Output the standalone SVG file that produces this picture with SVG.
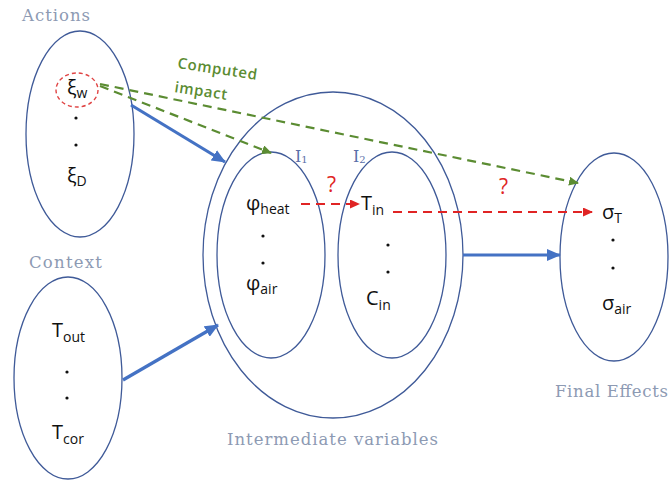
<svg xmlns="http://www.w3.org/2000/svg" width="670" height="482" viewBox="0 0 670 482">
<defs>
<style>
.set{fill:none;stroke:#3f5a98;stroke-width:1.3}
.lbl{font-family:"DejaVu Serif","Liberation Serif",serif;font-size:16.5px;fill:#8d9ab3}
.m{font-family:"Open Sans","Liberation Sans",sans-serif;font-size:20px;fill:#111}
.s{font-size:14px}
.dot{fill:#111}
.blue{stroke:#4472c4;stroke-width:3.2;fill:none}
.green{stroke:#5b8c32;stroke-width:2.2;fill:none;stroke-dasharray:9 6}
.red{stroke:#e02424;stroke-width:2.2;fill:none;stroke-dasharray:9 6}
.q{font-family:"Open Sans","Liberation Sans",sans-serif;font-size:21px;fill:#e02424}
.ci{font-family:"Open Sans","Liberation Sans",sans-serif;font-size:15px;font-weight:600;fill:#5b8c32}
.tag{font-family:"DejaVu Serif","Liberation Serif",serif;font-size:16px;fill:#5a6fa8}
</style>
<marker id="ab" markerUnits="userSpaceOnUse" markerWidth="14" markerHeight="12" refX="13" refY="6" orient="auto"><path d="M0,0 L14,6 L0,12 Z" fill="#4472c4"/></marker>
<marker id="ag" markerUnits="userSpaceOnUse" markerWidth="10" markerHeight="9" refX="9" refY="4.5" orient="auto"><path d="M0,0 L10,4.5 L0,9 Z" fill="#5b8c32"/></marker>
<marker id="ar" markerUnits="userSpaceOnUse" markerWidth="10" markerHeight="9" refX="9" refY="4.5" orient="auto"><path d="M0,0 L10,4.5 L0,9 Z" fill="#e02424"/></marker>
</defs>
<rect width="670" height="482" fill="#fff"/>

<g id="actions">
<text class="lbl" x="22" y="21" textLength="68">Actions</text>
<ellipse class="set" cx="80" cy="134" rx="54" ry="103"/>
<ellipse cx="77" cy="90" rx="21" ry="17" fill="none" stroke="#e04545" stroke-width="1.4" stroke-dasharray="4 3"/>
<text class="m" x="67" y="94">ξ<tspan class="s" dy="4">w</tspan></text>
<circle class="dot" cx="76" cy="118" r="1.6"/>
<circle class="dot" cx="76" cy="145" r="1.6"/>
<text class="m" x="67" y="182">ξ<tspan class="s" dy="4">D</tspan></text>
</g>

<g id="context">
<text class="lbl" x="29" y="268" textLength="73">Context</text>
<ellipse class="set" cx="68" cy="378" rx="54" ry="101"/>
<text class="m" x="52" y="337">T<tspan class="s" dy="5">out</tspan></text>
<circle class="dot" cx="67" cy="372" r="1.6"/>
<circle class="dot" cx="67" cy="398" r="1.6"/>
<text class="m" x="52" y="439">T<tspan class="s" dy="5">cor</tspan></text>
</g>

<g id="intermediate">
<ellipse class="set" cx="333" cy="255" rx="130" ry="163"/>
<text class="lbl" x="227" y="445" textLength="211">Intermediate variables</text>
</g>

<g id="i1">
<ellipse class="set" cx="271" cy="255" rx="54" ry="103"/>
<text class="tag" x="295" y="162">I<tspan font-size="10" dy="1">1</tspan></text>
<text class="m" x="246" y="210">φ<tspan class="s" dy="4">heat</tspan></text>
<circle class="dot" cx="263" cy="236" r="1.6"/>
<circle class="dot" cx="263" cy="263" r="1.6"/>
<text class="m" x="246" y="290">φ<tspan class="s" dy="4">air</tspan></text>
</g>

<g id="i2">
<ellipse class="set" cx="392" cy="255" rx="54" ry="103"/>
<text class="tag" x="353" y="162">I<tspan font-size="10" dy="1">2</tspan></text>
<text class="m" x="361" y="210">T<tspan class="s" dy="5">in</tspan></text>
<circle class="dot" cx="388" cy="245" r="1.6"/>
<circle class="dot" cx="388" cy="272" r="1.6"/>
<text class="m" x="366" y="305">C<tspan class="s" dy="5">in</tspan></text>
</g>

<g id="final">
<ellipse class="set" cx="614" cy="257" rx="54" ry="104"/>
<text class="m" x="602" y="219">σ<tspan class="s" dy="4">T</tspan></text>
<circle class="dot" cx="613" cy="240" r="1.6"/>
<circle class="dot" cx="613" cy="268" r="1.6"/>
<text class="m" x="602" y="310">σ<tspan class="s" dy="4">air</tspan></text>
<text class="lbl" x="555" y="397" textLength="113">Final Effects</text>
</g>

<g id="connectors">
<line class="blue" x1="131" y1="105" x2="225" y2="162" marker-end="url(#ab)"/>
<line class="blue" x1="123" y1="380" x2="218" y2="325" marker-end="url(#ab)"/>
<line class="blue" x1="463" y1="255" x2="560" y2="255" marker-end="url(#ab)"/>
<line class="green" x1="100" y1="86" x2="271" y2="153" marker-end="url(#ag)"/>
<line class="green" x1="100" y1="84" x2="578" y2="183" marker-end="url(#ag)"/>
<line class="red" x1="301" y1="204" x2="359" y2="204" marker-end="url(#ar)"/>
<line class="red" x1="393" y1="212" x2="592" y2="212" marker-end="url(#ar)"/>
<text class="q" x="327" y="192">?</text>
<text class="q" x="499" y="194">?</text>
<text class="ci" transform="rotate(8.5 177 68)" x="177" y="68" textLength="80">Computed</text>
<text class="ci" transform="rotate(8.5 174 92)" x="174" y="92" textLength="53">impact</text>
</g>
</svg>
